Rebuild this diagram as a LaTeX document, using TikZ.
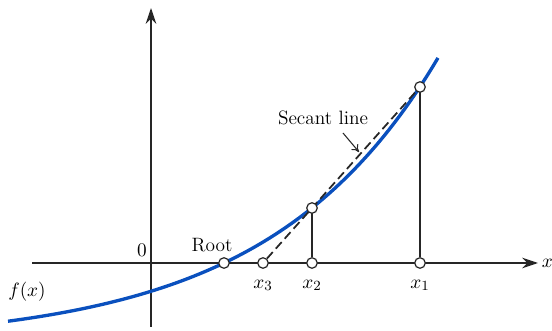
\documentclass[tikz,border=0pt]{standalone}
\usepackage{amsmath}
\usepackage{xcolor}
\usepackage{tikz}
\usetikzlibrary{arrows.meta, positioning, calc}
\definecolor{curveblue}{RGB}{10,80,190}
\tikzset{
  %% Axes
  axis/.style={line width=0.8pt, black!85, -{Stealth[length=9pt, width=6pt]}},
  %% The function curve
  fcurve/.style={line width=1.9pt, curveblue},
  %% Open points on the axis / curve
  opendot/.style={circle, draw=black!85, fill=white, line width=0.7pt,
    inner sep=0pt, minimum size=6pt},
  %% Ordinates and secant
  ordline/.style={line width=1pt, black!85},
  secline/.style={line width=1pt, black!85, dash pattern=on 5pt off 2.6pt},
  pointer/.style={line width=0.6pt, black!85, -{To[length=4pt, width=5pt]}},
  lbl/.style={font=\fontsize{11}{13}\selectfont, inner sep=1pt},
}
\begin{document}
\begin{tikzpicture}[x=0.02cm, y=-0.02cm]
  \useasboundingbox (0,0) rectangle (552,331);

  %% Axes
  \coordinate (xl) at (32,263);
  \coordinate (xr) at (538,263);
  \coordinate (yb) at (151,327);
  \coordinate (yt) at (151,8);
  \draw[axis] (xl) -- (xr);
  \draw[axis] (yb) -- (yt);
  \node[lbl, right=1pt of xr] (xlab) {$x$};
  \node[lbl] (zero) at (142,250) {$0$};

  %% Curve f(x)
  \draw[fcurve] plot[domain=-143:287, samples=80]
    ({151+\x}, {263-80.8*(exp(0.0059*(\x-73))-1)});
  \node[lbl] (flab) at (27,292) {$f(x)$};

  %% Points
  \node[opendot] (root) at (224,263) {};
  \node[opendot] (x3)   at (263,263) {};
  \node[opendot] (x2)   at (312,263) {};
  \node[opendot] (x1)   at (420,263) {};
  \coordinate (p2) at (312,208);
  \coordinate (p1) at (420,87);

  %% Secant and ordinates
  \draw[secline] (x3) -- (p1);
  \draw[ordline] (p2) -- (x2);
  \draw[ordline] (p1) -- (x1);
  \node[opendot] (c2) at (p2) {};
  \node[opendot] (c1) at (p1) {};

  %% Labels
  \node[lbl, below=5pt of x3] (x3lab) {$x_3$};
  \node[lbl, below=5pt of x2] (x2lab) {$x_2$};
  \node[lbl, below=5pt of x1] (x1lab) {$x_1$};
  \node[lbl] (rootlab) at (212,245) {Root};

  %% Secant line callout
  \node[lbl] (seclab) at (323,118) {Secant line};
  \coordinate (secA) at (343,133);
  \coordinate (secB) at (359,152);
  \draw[pointer] (secA) -- (secB);

\end{tikzpicture}
\end{document}
